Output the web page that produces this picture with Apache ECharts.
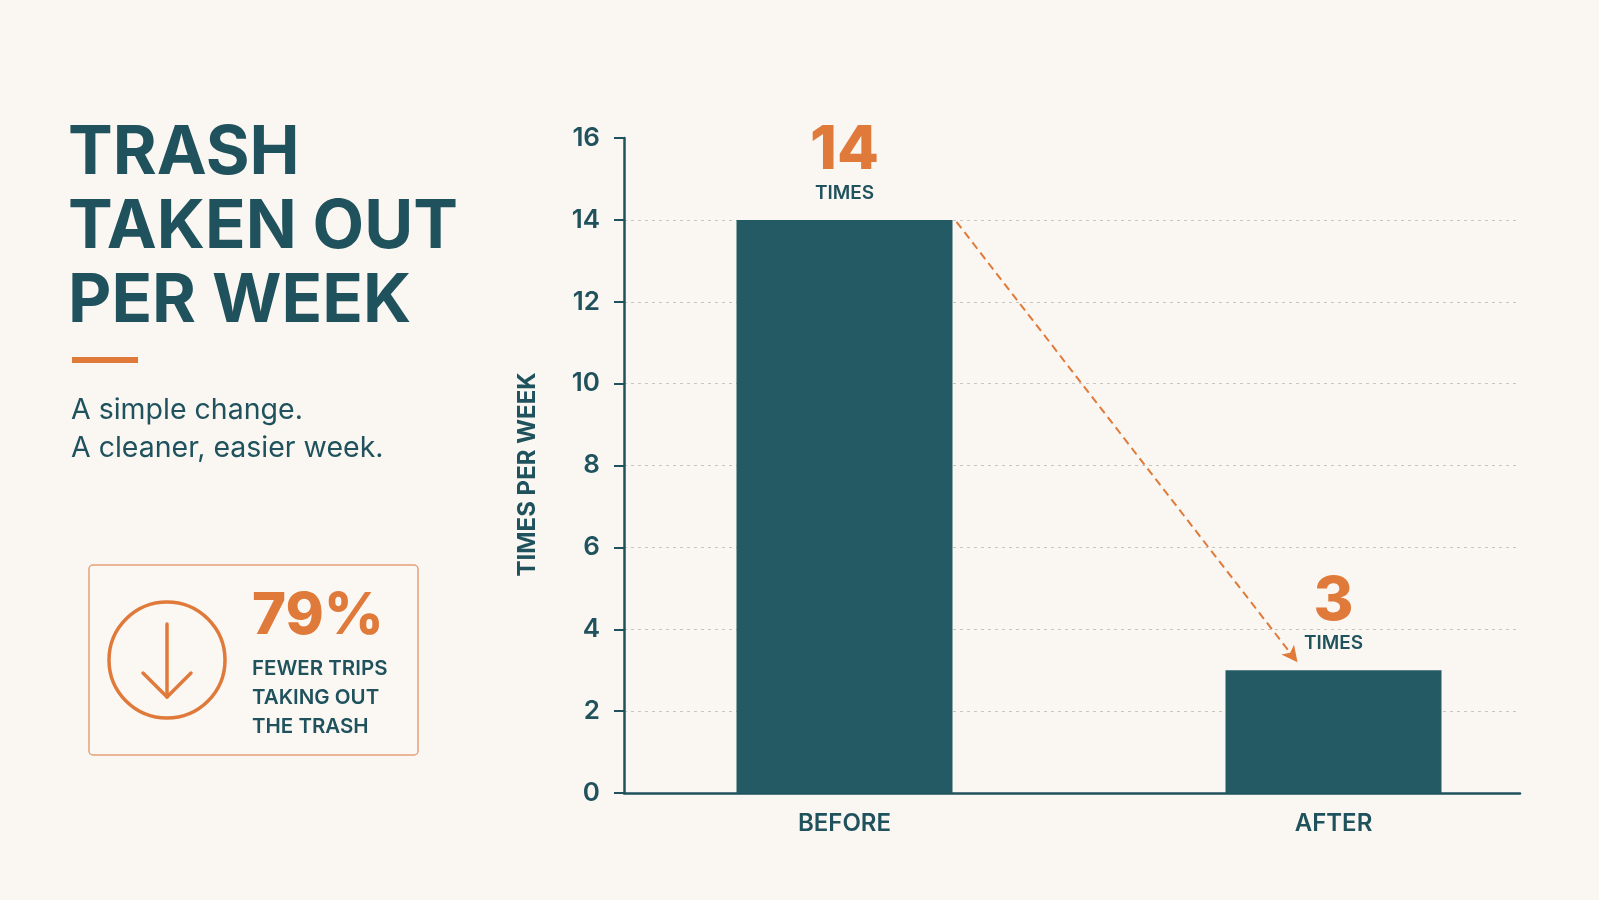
<!DOCTYPE html>
<html>
<head>
<meta charset="utf-8">
<title>Trash taken out per week</title>
<script src="https://cdn.jsdelivr.net/npm/echarts@6/dist/echarts.min.js"></script>
<style>
    html,body{margin:0;padding:0;background:#faf6f1;}
    #main{width:1599px;height:900px;}
</style>
</head>
<body>
<div id="main"></div>
<script>
// data
const categories = ['BEFORE', 'AFTER'];
const timesPerWeek = [14, 3];
const unitText = 'TIMES';
const yMin = 0, yMax = 16, yStep = 2;
const titleLines = ['TRASH', 'TAKEN OUT', 'PER WEEK'];
const subLines = ['A simple change.', 'A cleaner, easier week.'];
const calloutValue = '79%';
const calloutLines = ['FEWER TRIPS', 'TAKING OUT', 'THE TRASH'];

const TEAL = '#1f525d';
const BAR = '#245a63';
const ORANGE = '#e07a3a';
const FONT = 'Inter, "Open Sans", sans-serif';
const BAR_W = 216;

let chart = echarts.init(document.getElementById('main'));

const leftPanel = () => {
    let g = [];
    titleLines.forEach((t, i) => {
        g.push({type:'text', x:68, y:154 + i * 74, style:{
            text:t, fill:TEAL, fontSize:67, fontWeight:700, fontFamily:FONT,
            verticalAlign:'middle', letterSpacing:-1.5
        }});
    });
    g.push({type:'rect', shape:{x:72, y:357, width:66, height:6}, style:{fill:ORANGE}});
    subLines.forEach((t, i) => {
        g.push({type:'text', x:71, y:410 + i * 38, style:{
            text:t, fill:TEAL, fontSize:28.5, fontWeight:400, fontFamily:FONT, verticalAlign:'middle',
            letterSpacing:0.9
        }});
    });
    // callout box
    g.push({type:'rect', shape:{x:89, y:565, width:329, height:190, r:4},
        style:{fill:'#fbf8f4', stroke:'#e6a07a', lineWidth:1.5}});
    g.push({type:'circle', shape:{cx:167, cy:660, r:58}, style:{fill:'none', stroke:ORANGE, lineWidth:3.5}});
    g.push({type:'line', shape:{x1:167, y1:624, x2:167, y2:697},
        style:{stroke:ORANGE, lineWidth:3.5, lineCap:'round'}});
    g.push({type:'polyline', shape:{points:[[143,673],[167,697],[191,673]]},
        style:{fill:'none', stroke:ORANGE, lineWidth:3.5, lineCap:'round', lineJoin:'round'}});
    g.push({type:'text', x:252, y:617, style:{
        text:calloutValue, fill:ORANGE, fontSize:58, fontWeight:800, fontFamily:FONT, verticalAlign:'middle',
        letterSpacing:-1
    }});
    calloutLines.forEach((t, i) => {
        g.push({type:'text', x:252, y:669 + i * 29, style:{
            text:t, fill:TEAL, fontSize:20.5, fontWeight:600, fontFamily:FONT, verticalAlign:'middle'
        }});
    });
    return g;
};

let option = {
    backgroundColor:'#faf6f1',
    animation:false,
    graphic:leftPanel(),
    grid:[
        // axes frame
        {left:624, right:79, top:138, bottom:107},
        // bars (slightly wider band so the bars sit where they do in the picture)
        {left:600, right:21, top:138, bottom:107}
    ],
    xAxis:[
        {
            type:'category', gridIndex:0, data:categories,
            axisLine:{lineStyle:{color:TEAL, width:2.5}},
            axisTick:{show:false}, axisLabel:{show:false}
        },
        {
            type:'category', gridIndex:1, data:categories,
            axisLine:{show:false}, axisTick:{show:false},
            axisLabel:{color:TEAL, fontSize:24, fontWeight:600, fontFamily:FONT, margin:19}
        }
    ],
    yAxis:[
        {
            type:'value', gridIndex:0, min:yMin, max:yMax, interval:yStep,
            name:'TIMES PER WEEK', nameLocation:'middle', nameGap:84, nameRotate:90,
            nameTextStyle:{color:TEAL, fontSize:24, fontWeight:700, fontFamily:FONT, padding:[0, 18, 0, 0]},
            axisLine:{show:true, lineStyle:{color:TEAL, width:2.5}},
            axisTick:{show:true, length:10, lineStyle:{color:TEAL, width:2}},
            axisLabel:{color:TEAL, fontSize:26, fontWeight:600, fontFamily:FONT, margin:24},
            splitLine:{show:true, showMaxLine:false, lineStyle:{color:'#c9c6c0', width:1, type:[3,4]}}
        },
        {
            type:'value', gridIndex:1, min:yMin, max:yMax, interval:yStep, show:false,
            splitLine:{show:false}
        }
    ],
    series:[
        {
            type:'bar', xAxisIndex:1, yAxisIndex:1, data:timesPerWeek,
            barWidth:BAR_W, itemStyle:{color:BAR},
            label:{
                show:true, position:'top', distance:16,
                formatter:'{v|{c}}\n{t|' + unitText + '}',
                rich:{
                    v:{fontSize:61, fontWeight:800, color:ORANGE, fontFamily:FONT, lineHeight:62, align:'center'},
                    t:{fontSize:19, fontWeight:600, color:TEAL, fontFamily:FONT, lineHeight:22, align:'center'}
                }
            }
        }
    ]
};
chart.setOption(option);

// dashed arrow from top-right corner of the first bar down to the second bar
let p0 = chart.convertToPixel({xAxisIndex:1, yAxisIndex:1}, [categories[0], timesPerWeek[0]]);
let p1 = chart.convertToPixel({xAxisIndex:1, yAxisIndex:1}, [categories[1], timesPerWeek[1]]);
chart.setOption({
    series:[{
        markLine:{
            silent:true, symbol:['none','arrow'], symbolSize:[12,16],
            label:{show:false},
            lineStyle:{color:ORANGE, width:2, type:[8,5]},
            data:[[{x:p0[0] + BAR_W / 2 + 4, y:p0[1] + 2}, {x:p1[0] - 36, y:p1[1] - 8}]]
        }
    }]
});
</script>
</body>
</html>
